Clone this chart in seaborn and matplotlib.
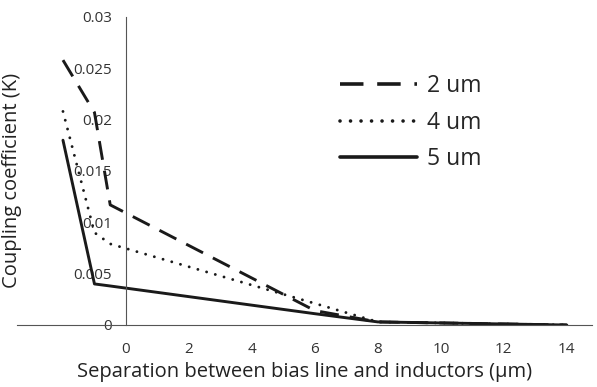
import numpy as np
import pandas as pd
import seaborn as sns
import matplotlib.pyplot as plt

# separation (um) and coupling coefficient for each bias-line width
separation = [-2, -1, -0.5, 6, 8, 10, 12, 14]
k_2um = [0.0258, 0.0207, 0.0117, 0.0014, 0.0003, 0.0002, 0.0001, 0.0]
k_4um = [0.0208, 0.0090, 0.0079, 0.0021, 0.0003, 0.0002, 0.0001, 0.0]
k_5um = [0.0180, 0.0040, 0.0038, 0.0011, 0.0003, 0.0002, 0.0001, 0.0]
series = ["2 um", "4 um", "5 um"]

df = pd.DataFrame({
    "sep": separation * 3,
    "k": k_2um + k_4um + k_5um,
    "width": sum([[s] * len(separation) for s in series], []),
})

sns.set_style("white")
plt.rcParams["font.family"] = ["Open Sans", "DejaVu Sans"]

fig = plt.figure(figsize=(5.97, 3.87), dpi=100)
ax = fig.add_axes([17 / 597, 1 - 325 / 387, 575 / 597, 308 / 387])

for s in series:
    d = df[df["width"] == s]
    sns.lineplot(data=d, x="sep", y="k", ax=ax, color="#1a1a1a",
                 linewidth=2.1, label=s, sort=False)
ln = ax.get_lines()
ln[0].set_dashes((6.5, 3.8))
ln[1].set_dashes((0.01, 3.1))
ln[1].set_dash_capstyle("round")

ax.set_xlim(-3.46, 14.8)
ax.set_ylim(0, 0.03)
ax.set_xticks(np.arange(0, 15, 2))
ax.set_yticks([0, 0.005, 0.01, 0.015, 0.02, 0.025, 0.03])
ax.set_yticklabels(["0", "0.005", "0.01", "0.015", "0.02", "0.025", "0.03"])

for side in ["top", "right"]:
    ax.spines[side].set_visible(False)
ax.spines["left"].set_position(("data", 0))
for side in ["left", "bottom"]:
    ax.spines[side].set_color("#555555")
    ax.spines[side].set_linewidth(0.8)
ax.tick_params(axis="both", length=0, labelsize=11, colors="#333333")
ax.tick_params(axis="x", pad=12)
ax.tick_params(axis="y", pad=10)

ax.set_xlabel("Separation between bias line and inductors (\u03bcm)",
              fontsize=14.5, color="#222222", labelpad=4)
ax.set_ylabel("Coupling coefficient (K)", fontsize=14.5, color="#222222")
ax.yaxis.set_label_coords((12 - 17) / 575, 0.47)
ax.yaxis.label.set_verticalalignment("center")

leg = ax.legend(loc="upper left", bbox_to_anchor=((340 - 17) / 575, (325 - 74) / 308),
                frameon=False, fontsize=16.5, handlelength=3.35, labelspacing=0.55,
                handletextpad=0.45, borderpad=0, borderaxespad=0)
hl = leg.get_lines()
for h in hl:
    h.set_linewidth(2.6)
hl[0].set_dashes((6.5, 3.8))
hl[1].set_dashes((0.01, 2.9))
hl[1].set_dash_capstyle("round")

fig.savefig("out.png", dpi=100)
